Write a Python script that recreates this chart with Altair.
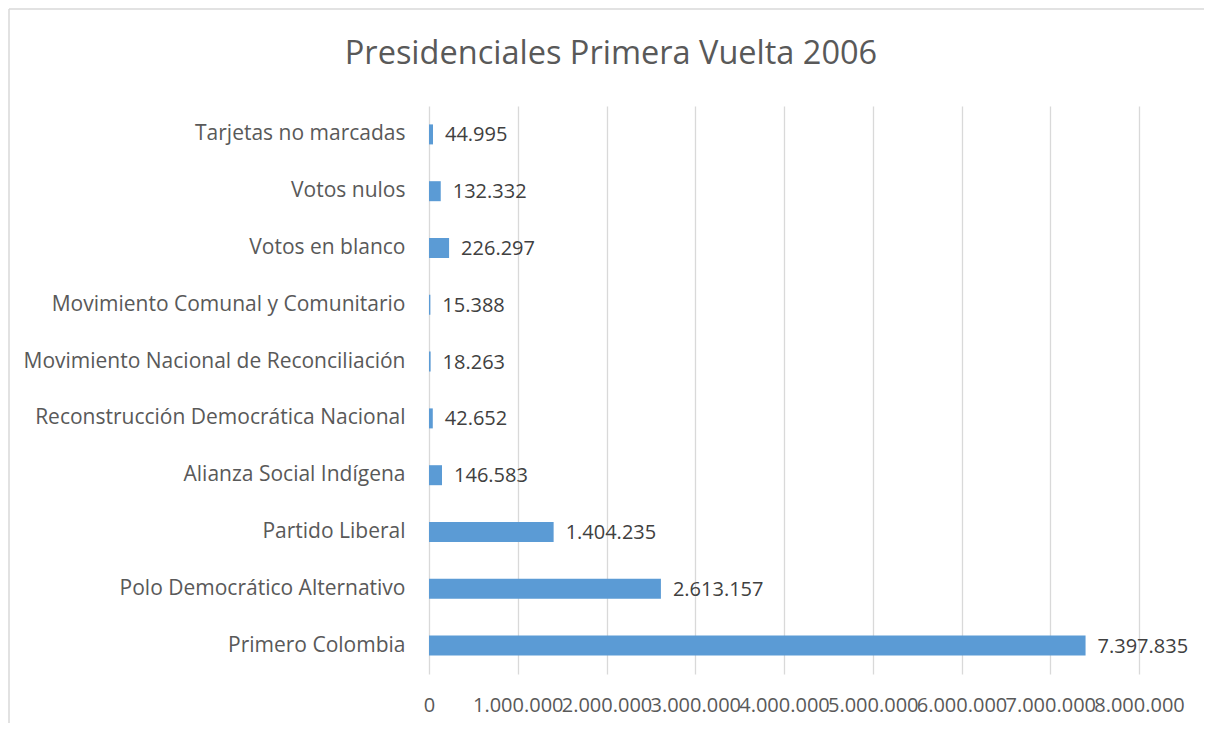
import altair as alt
import pandas as pd

categories = [
    "Tarjetas no marcadas",
    "Votos nulos",
    "Votos en blanco",
    "Movimiento Comunal y Comunitario",
    "Movimiento Nacional de Reconciliación",
    "Reconstrucción Democrática Nacional",
    "Alianza Social Indígena",
    "Partido Liberal",
    "Polo Democrático Alternativo",
    "Primero Colombia",
]
votes = [44995, 132332, 226297, 15388, 18263, 42652, 146583, 1404235, 2613157, 7397835]
x_ticks = [0, 1000000, 2000000, 3000000, 4000000, 5000000, 6000000, 7000000, 8000000]
title_text = "Presidenciales Primera Vuelta 2006"

df = pd.DataFrame({"cat": categories, "v": votes})

FONT = "Open Sans"
GREY = "#595959"
FS = 20

base = alt.Chart(df).transform_calculate(
    lab="replace(format(datum.v, ','), regexp(',', 'g'), '.')"
)

y_enc = alt.Y(
    "cat:N",
    sort=categories,
    title=None,
    axis=alt.Axis(
        ticks=False, domain=False, grid=False, labelPadding=24,
        labelFont=FONT, labelFontSize=21, labelColor=GREY, labelLimit=600,
    ),
)
x_enc = alt.X(
    "v:Q",
    title=None,
    scale=alt.Scale(domain=[0, 8000000], nice=False),
    axis=alt.Axis(
        values=x_ticks, ticks=False, domain=False, grid=True,
        gridColor="#d9d9d9", gridWidth=1.3,
        labelExpr="replace(format(datum.value, ','), regexp(',', 'g'), '.')",
        labelOverlap=False, labelFlush=False, labelBound=False,
        labelPadding=21, labelFont=FONT, labelFontSize=FS, labelColor=GREY,
    ),
)

bars = base.mark_bar(color="#5b9bd5", size=20).encode(x=x_enc, y=y_enc)
texts = base.mark_text(
    align="left", baseline="middle", dx=12, dy=1,
    font=FONT, fontSize=FS, color="#404040",
).encode(x="v:Q", y=alt.Y("cat:N", sort=categories), text="lab:N")

one = pd.DataFrame({"t": [title_text]})
border_left = alt.Chart(one).mark_rule(
    color="#d9d9d9", strokeWidth=1.5, clip=False
).encode(x=alt.value(-420), y=alt.value(-97), y2=alt.value(700))
border_top = alt.Chart(one).mark_rule(
    color="#d9d9d9", strokeWidth=1.5, clip=False
).encode(x=alt.value(-420), x2=alt.value(900), y=alt.value(-97))
title = alt.Chart(one).mark_text(
    font=FONT, fontSize=32.5, color=GREY, align="center", baseline="middle"
).encode(x=alt.value(182), y=alt.value(-52), text="t:N")

chart = alt.layer(border_left, border_top, title, bars, texts).properties(
    width=710,
    height=568,
    autosize=alt.AutoSizeParams(type="none"),
    padding={"left": 421, "top": 98, "right": 65, "bottom": 49},
).configure_view(stroke=None)

chart.save("out.html", embed_options={"renderer": "svg", "actions": False})
